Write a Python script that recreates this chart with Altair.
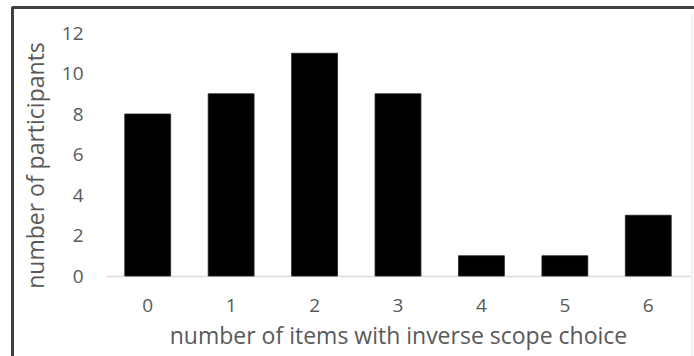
import altair as alt
import pandas as pd

categories = ["0", "1", "2", "3", "4", "5", "6"]
participants = [8, 9, 11, 9, 1, 1, 3]
y_ticks = [0, 2, 4, 6, 8, 10, 12]

df = pd.DataFrame({"items": categories, "count": participants})

FONT = "Open Sans"
TXT = "#595959"
W, H = 584, 243

bars = alt.Chart(df).mark_bar(color="black", stroke="#222222", strokeWidth=0.8).encode(
    x=alt.X("items:N", sort=categories,
            scale=alt.Scale(paddingInner=0.45, paddingOuter=0.225),
            axis=alt.Axis(title="number of items with inverse scope choice",
                          labelAngle=0, ticks=False, labelPadding=29,
                          labelBaseline="middle",
                          labelFontSize=19, labelColor=TXT, labelFont=FONT,
                          domainColor="#d9d9d9", domainWidth=1.5,
                          titleFontSize=23, titleColor=TXT, titleFont=FONT,
                          titleFontWeight="normal", titleBaseline="alphabetic",
                          titleY=67, grid=False)),
    y=alt.Y("count:Q", scale=alt.Scale(domain=[0, 12], nice=False),
            axis=alt.Axis(title="number of participants", values=y_ticks,
                          ticks=False, domain=False, grid=False, labelPadding=23,
                          labelFontSize=19, labelColor=TXT, labelFont=FONT,
                          titleFontSize=23, titleColor=TXT, titleFont=FONT,
                          titleFontWeight="normal", titleBaseline="alphabetic",
                          titleAngle=270, titleX=-63, titleY=132, titleAlign="center")),
)

border_top = alt.Chart(df).mark_rule(color="#404040", strokeWidth=2).encode(
    x=alt.value(-94), x2=alt.value(W + 4), y=alt.value(-25.5))
border_left = alt.Chart(df).mark_rule(color="#404040", strokeWidth=2).encode(
    x=alt.value(-93.5), y=alt.value(-26), y2=alt.value(H + 80))
border_right = alt.Chart(df).mark_rule(color="#eeeeee", strokeWidth=1).encode(
    x=alt.value(W + 2), y=alt.value(-18), y2=alt.value(H + 80))

chart = alt.layer(bars, border_top, border_left, border_right).properties(
    width=W, height=H,
    padding={"left": 106, "top": 33, "right": 4, "bottom": 80},
    autosize=alt.AutoSizeParams(type="none"),
    background="white",
).configure_view(stroke=None)

chart.save("out.html", embed_options={"renderer": "svg", "actions": False})
